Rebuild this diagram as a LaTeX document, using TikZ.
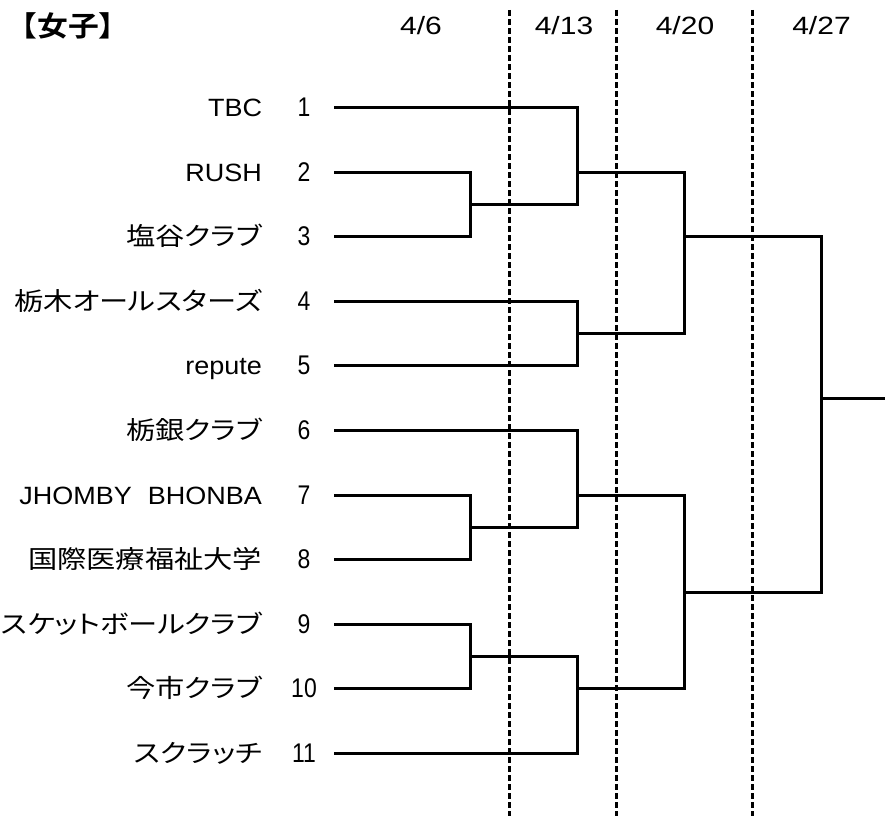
\documentclass[tikz,border=0pt]{standalone}
\usepackage{fontspec}
\setmainfont{Liberation Sans}
\newfontfamily\jp{Noto Sans CJK JP}[CharacterWidth=AlternateProportional]
\newfontfamily\jptitle{Noto Sans CJK JP}[BoldFont={* Bold}]
\usetikzlibrary{calc}
\newcommand{\rowy}[1]{107.5+64.6*(#1)}
\tikzset{
    label/.style={inner sep=0pt, outer sep=0pt},
    team/.style={label, anchor=base east, xscale=1.08, font=\fontsize{25}{30}\selectfont},
    jteam/.style={label, anchor=base east, xscale=1.17, font=\jp\fontsize{25}{30}\selectfont},
    seed/.style={label, anchor=base, xscale=0.85, font=\fontsize{27}{30}\selectfont},
    date/.style={label, anchor=base, xscale=1.2, font=\fontsize{25}{30}\selectfont},
    title/.style={label, xscale=1.1, font=\jptitle\bfseries\fontsize{28}{30}\selectfont},
    bracket/.style={line width=3pt, line join=miter},
    week/.style={line width=3pt, dash pattern=on 6pt off 3pt}
}

\begin{document}
\begin{tikzpicture}[x=1pt,y=-1pt]
    \useasboundingbox (0,0) rectangle (885,816);
    % week separators
    \foreach \x [count=\i] in {509,616,752} {
        \coordinate (wt\i) at (\x,10);
        \coordinate (wb\i) at (\x,816);
        \draw[week] (wt\i) -- (wb\i);
    }
    \node[title] (head) at (68,26) {【女子】};
    \node[date] (d1) at (421,35) {4/6};
    \node[date] (d2) at (564,35) {4/13};
    \node[date] (d3) at (685,35) {4/20};
    \node[date] (d4) at (821.5,35) {4/27};

    % entries
    \foreach \name/\sty [count=\i] in {TBC/team, RUSH/team, 塩谷クラブ/jteam,
        栃木オールスターズ/jteam, repute/team, 栃銀クラブ/jteam,
        JHOMBY\hspace{0.6em}BHONBA/team, 国際医療福祉大学/jteam,
        スケットボールクラブ/jteam, 今市クラブ/jteam, スクラッチ/jteam} {
        \node[\sty] (t\i) at (262,{\rowy{\i-1}+9}) {\name};
        \node[seed] (n\i) at (304,{\rowy{\i-1}+9}) {\i};
        \coordinate (s\i) at (334,{\rowy{\i-1}});
    }

    \coordinate (a23) at (470,{\rowy{1.5}});
    \coordinate (a78) at (470,{\rowy{6.5}});
    \coordinate (a910) at (470,{\rowy{8.5}});
    \coordinate (b1) at (577,{\rowy{1}});
    \coordinate (b45) at (577,{\rowy{3.5}});
    \coordinate (b6) at (577,{\rowy{6}});
    \coordinate (b11) at (577,{\rowy{9}});
    \coordinate (c1) at (684,{\rowy{2}});
    \coordinate (c2) at (684,{\rowy{7.5}});
    \coordinate (win) at (821,{\rowy{4.5}});
    \coordinate (out) at (885,{\rowy{4.5}});

    \draw[bracket] (s2) -| (a23) |- (s3);
    \draw[bracket] (s7) -| (a78) |- (s8);
    \draw[bracket] (s9) -| (a910) |- (s10);
    \draw[bracket] (s1) -| (b1 |- a23) -- (a23);
    \draw[bracket] (s4) -| (b45) |- (s5);
    \draw[bracket] (s6) -| (b6 |- a78) -- (a78);
    \draw[bracket] (a910) -| (b11 |- s11) -- (s11);
    \draw[bracket] (b1) -| (c1 |- b45) -- (b45);
    \draw[bracket] (b6) -| (c2 |- b11) -- (b11);
    \draw[bracket] (c1) -| (win |- c2) -- (c2);
    \draw[bracket] (win) -- (out);
\end{tikzpicture}
\end{document}
